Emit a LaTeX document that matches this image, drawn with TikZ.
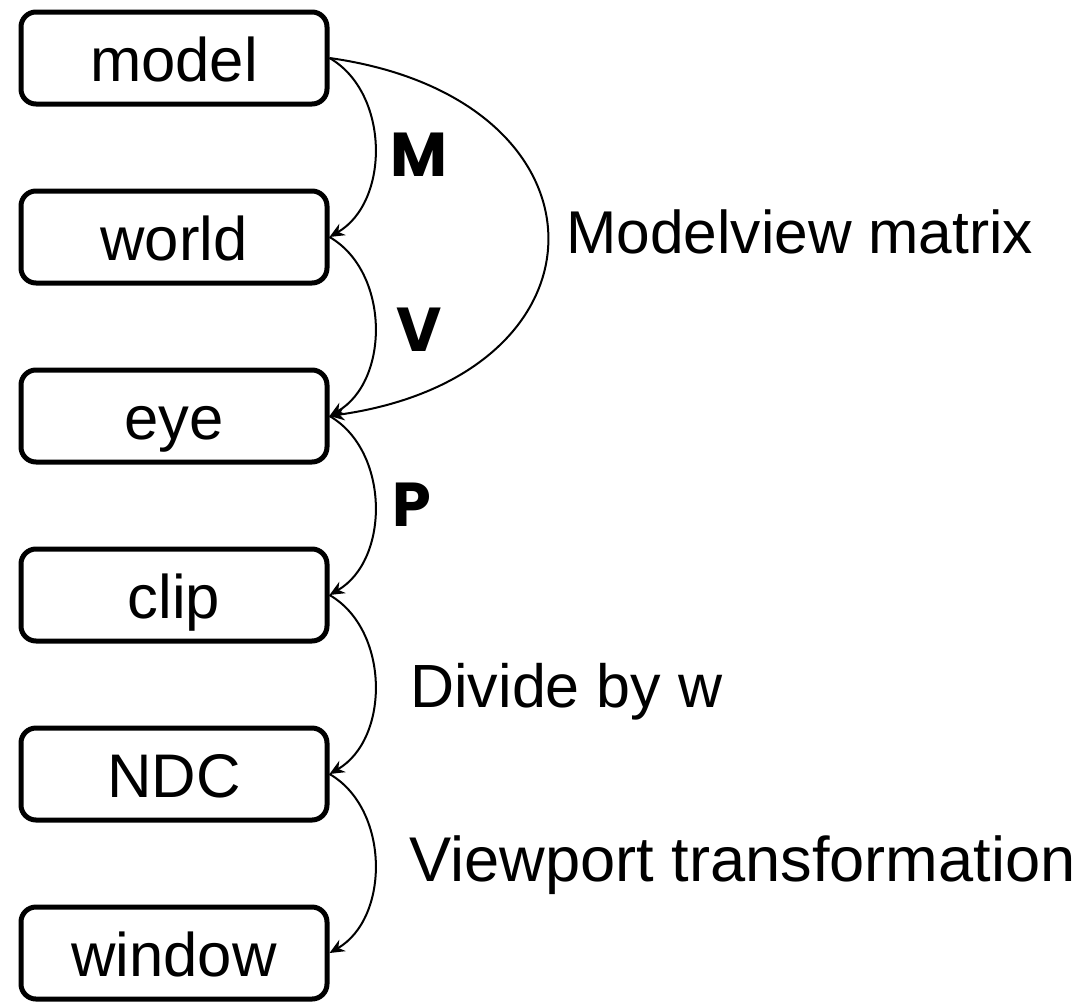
\documentclass[tikz,border=0pt]{standalone}
\usepackage{fontspec}
\setmainfont{Liberation Sans}
\newfontfamily\labfont{Poppins}
\usetikzlibrary{arrows.meta}
\begin{document}
\begin{tikzpicture}[x=0.5pt,y=-0.5pt,
  stage/.style={draw, line width=2.5pt, rounded corners=7.5pt, minimum width=153pt, minimum height=46pt, inner sep=0pt, text height=23pt, text depth=0pt, font=\fontsize{30.8}{36}\selectfont},
  conn/.style={line width=1pt, -{Stealth[length=7.5pt,width=6.5pt]}},
  txt/.style={anchor=base west, inner sep=0pt, font=\fontsize{30.5}{36}\selectfont},
  mat/.style={inner sep=0pt, font=\labfont\bfseries\fontsize{31}{36}\selectfont}]
\useasboundingbox (0,0) rectangle (1086,1001);
\node[stage] (model)  at (174,58)  {model};
\node[stage] (world)  at (174,237) {world};
\node[stage] (eye)    at (174,416) {eye};
\node[stage] (clip)   at (174,595) {clip};
\node[stage] (ndc)    at (174,774) {NDC};
\node[stage] (window) at (174,953) {window};
\draw[conn] (model.east) to[out=-30,in=30] (world.east);
\draw[conn] (world.east) to[out=-30,in=30] (eye.east);
\draw[conn] (model.east) to[out=-8,in=8,looseness=2.1] (eye.east);
\draw[conn] (eye.east) to[out=-30,in=30] (clip.east);
\draw[conn] (clip.east) to[out=-30,in=30] (ndc.east);
\draw[conn] (ndc.east) to[out=-30,in=30] (window.east);
\node[mat] (m) at (419,155) {M};
\node[mat] (v) at (419,330) {V};
\node[mat] (p) at (412,505) {P};
\node[txt, font=\fontsize{30.2}{36}\selectfont] (mv) at (566,253) {Modelview matrix};
\node[txt] (dw) at (410,707) {Divide by w};
\node[txt, font=\fontsize{31.6}{36}\selectfont] (vt) at (409,881) {Viewport transformation};
\end{tikzpicture}
\end{document}
